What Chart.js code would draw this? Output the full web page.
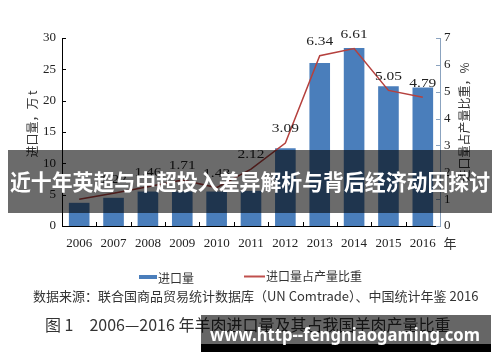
<!DOCTYPE html>
<html>
<head>
<meta charset="utf-8">
<script src="https://cdn.jsdelivr.net/npm/chart.js@4.4.1/dist/chart.umd.min.js"></script>
<style>
  html, body { margin: 0; padding: 0; background: #fff; }
  #wrap { width: 500px; height: 362px; }
</style>
</head>
<body>
<div id="wrap"><canvas id="myChart" width="500" height="362"></canvas></div>
<script>
var years = ['2006', '2007', '2008', '2009', '2010', '2011', '2012', '2013', '2014', '2015', '2016'];
var importVolume = [3.7, 4.5, 5.5, 5.5, 5.5, 5.6, 12.4, 26.0, 28.4, 22.3, 22.1];
var importShare = [1.0, 1.22, 1.46, 1.71, 1.43, 2.12, 3.09, 6.34, 6.61, 5.05, 4.79];
var shareLabels = ['', '1.22', '1.46', '1.71', '1.43', '2.12', '3.09', '6.34', '6.61', '5.05', '4.79'];

var serif = '"Liberation Serif", "DejaVu Serif", serif';
var cjk = '"Noto Sans CJK SC", sans-serif';

// draw text squeezed/stretched to a given width
function fitText(ctx, text, cx, cy, width) {
    var w = ctx.measureText(text).width;
    ctx.save();
    ctx.translate(cx, cy);
    ctx.scale(width / w, 1);
    ctx.fillText(text, 0, 0);
    ctx.restore();
}

// extra drawing: inward ticks, axis titles, labels, legend, notes, overlays
var extras = {
    id: 'extras',
    afterDatasetsDraw: function(chart) {
        var ctx = chart.ctx;
        var area = chart.chartArea;
        var x = chart.scales.x, y = chart.scales.y, y1 = chart.scales.y1;
        ctx.save();

        // inward ticks on left axis
        ctx.strokeStyle = '#000';
        ctx.lineWidth = 1;
        y.ticks.forEach(function(t) {
            var py = Math.round(y.getPixelForValue(t.value)) + 0.5;
            ctx.beginPath();
            ctx.moveTo(area.left, py);
            ctx.lineTo(area.left + 4, py);
            ctx.stroke();
        });
        // inward ticks on right axis
        ctx.strokeStyle = '#8ba3bf';
        y1.ticks.forEach(function(t) {
            var py = Math.round(y1.getPixelForValue(t.value)) + 0.5;
            ctx.beginPath();
            ctx.moveTo(area.right, py);
            ctx.lineTo(area.right - 4, py);
            ctx.stroke();
        });
        // category boundary ticks on x axis
        ctx.strokeStyle = '#000';
        var step = (area.right - area.left) / years.length;
        for (var i = 1; i < years.length; i++) {
            var px = Math.round(area.left + step * i) + 0.5;
            ctx.beginPath();
            ctx.moveTo(px, area.bottom);
            ctx.lineTo(px, area.bottom - 4);
            ctx.stroke();
        }

        // data labels over the line
        ctx.fillStyle = '#222';
        ctx.font = '13px ' + serif;
        ctx.textAlign = 'center';
        ctx.textBaseline = 'middle';
        var meta = chart.getDatasetMeta(1);
        meta.data.forEach(function(pt, i) {
            if (shareLabels[i]) fitText(ctx, shareLabels[i], pt.x, pt.y - 14, 27);
        });

        // axis titles
        ctx.fillStyle = '#333';
        ctx.font = '12px ' + cjk;
        ctx.save();
        ctx.translate(32, 124);
        ctx.rotate(-Math.PI / 2);
        ctx.fillText('进口量，万 t', 0, 0);
        ctx.restore();
        ctx.save();
        ctx.translate(464, 122);
        ctx.rotate(-Math.PI / 2);
        ctx.fillText('进口量占产量比重，%', 0, 0);
        ctx.restore();

        // "年" after x labels
        ctx.font = '13px ' + cjk;
        ctx.fillText('年', 450, 243);

        // legend
        ctx.fillStyle = '#4a7ebb';
        ctx.fillRect(139, 275, 18, 4);
        ctx.strokeStyle = '#c0504d';
        ctx.lineWidth = 2;
        ctx.beginPath();
        ctx.moveTo(244, 276.5);
        ctx.lineTo(265, 276.5);
        ctx.stroke();
        ctx.fillStyle = '#333';
        ctx.font = '12px ' + cjk;
        ctx.textAlign = 'left';
        ctx.fillText('进口量', 158, 278);
        ctx.fillText('进口量占产量比重', 266, 276);

        // source note and caption
        ctx.font = '13px ' + cjk;
        ctx.fillText('数据来源：联合国商品贸易统计数据库（UN Comtrade）、中国统计年鉴 2016', 33, 296);
        ctx.font = '16px ' + cjk;
        ctx.fillText('图 1　2006—2016 年羊肉进口量及其占我国羊肉产量比重', 45, 325);

        // banner overlay
        ctx.fillStyle = 'rgba(0,0,0,0.58)';
        ctx.fillRect(8, 150, 484, 63);
        ctx.fillStyle = '#fff';
        ctx.font = 'bold 22px ' + cjk;
        ctx.textAlign = 'center';
        fitText(ctx, '近十年英超与中超投入差异解析与背后经济动因探讨', 250, 182, 480);

        // watermark
        ctx.fillStyle = 'rgba(0,0,0,0.6)';
        ctx.fillRect(201, 315, 290, 29);
        ctx.fillStyle = '#000';
        ctx.fillRect(201, 344, 290, 8);
        ctx.fillStyle = '#fff';
        ctx.font = 'bold 17px "Noto Sans", sans-serif';
        fitText(ctx, 'www.http--fengniaogaming.com', 345, 336, 270);

        ctx.restore();
    }
};

var ctx = document.getElementById('myChart').getContext('2d');
var myChart = new Chart(ctx, {
    type: 'bar',
    data: {
        labels: years,
        datasets: [
            {
                type: 'bar',
                label: '进口量',
                data: importVolume,
                backgroundColor: '#4a7ebb',
                categoryPercentage: 0.6,
                barPercentage: 1.0,
                yAxisID: 'y',
                order: 2
            },
            {
                type: 'line',
                label: '进口量占产量比重',
                data: importShare,
                borderColor: '#b5413e',
                borderWidth: 1.5,
                pointRadius: 0,
                tension: 0,
                fill: false,
                yAxisID: 'y1',
                order: 1
            }
        ]
    },
    options: {
        responsive: false,
        animation: false,
        devicePixelRatio: 1,
        layout: { padding: { top: 38, right: 0, bottom: 0, left: 0 } },
        plugins: {
            legend: { display: false },
            tooltip: { enabled: false }
        },
        scales: {
            x: {
                offset: true,
                grid: { display: false, drawTicks: false },
                border: { display: true, color: '#000', width: 1 },
                ticks: {
                    color: '#222',
                    font: { family: serif, size: 13 },
                    padding: 10,
                    maxRotation: 0
                },
                afterFit: function(s) { s.height = 136; }
            },
            y: {
                position: 'left',
                min: 0,
                max: 30,
                ticks: {
                    stepSize: 5,
                    color: '#222',
                    font: { family: serif, size: 13 },
                    padding: 6
                },
                grid: { display: false, drawTicks: false },
                border: { display: true, color: '#000', width: 1 },
                afterFit: function(s) { s.width = 62; }
            },
            y1: {
                position: 'right',
                min: 0,
                max: 7,
                ticks: {
                    stepSize: 1,
                    color: '#222',
                    font: { family: serif, size: 13 },
                    padding: 4
                },
                grid: { display: false, drawTicks: false },
                border: { display: true, color: '#8ba3bf', width: 1 },
                afterFit: function(s) { s.width = 60; }
            }
        }
    },
    plugins: [extras]
});
</script>
</body>
</html>
